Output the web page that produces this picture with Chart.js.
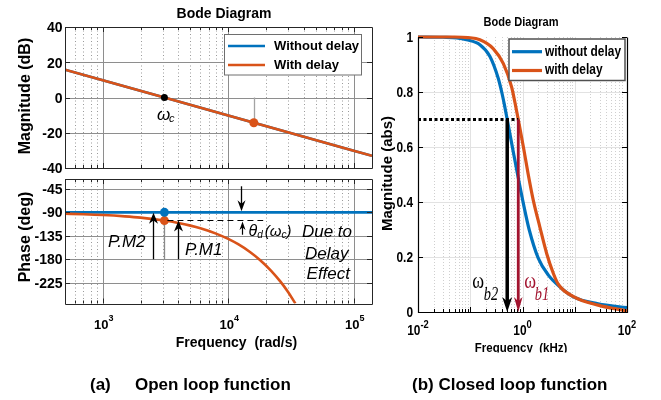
<!DOCTYPE html>
<html><head><meta charset="utf-8">
<script src="https://cdn.jsdelivr.net/npm/chart.js@4.4.1/dist/chart.umd.min.js"></script>
<style>
html,body{margin:0;padding:0;background:#fff;overflow:hidden}
#wrap{position:relative;width:661px;height:400px;background:#fff}
#wrap canvas{position:absolute;left:0;top:0}
.cap{position:absolute;top:375px;font:bold 17px "Liberation Sans",Arial,sans-serif;color:#000;white-space:pre;line-height:20px}
</style></head><body>
<div id="wrap">
<canvas id="cMag" width="661" height="400"></canvas>
<canvas id="cPhase" width="661" height="400"></canvas>
<canvas id="cCL" width="661" height="400"></canvas>
<div class="cap" style="left:90px">(a)</div>
<div class="cap" style="left:135px">Open loop function</div>
<div class="cap" style="left:412px">(b) Closed loop function</div>
</div>
<script>
// ================= DATA =================
// (a) open loop, frequency in rad/s
const freqRange = [500, 140000];
const openXTicks = [1e3, 1e4, 1e5];
const openXTickLabels = [['10', '3'], ['10', '4'], ['10', '5']];
const magYTicks = [-40, -20, 0, 20, 40];
const magYRange = [-40, 40];
const phaseYTicks = [-225, -180, -135, -90, -45];
const phaseYRange = [-265, -26];

const magFreq = [500, 1000, 3100, 10000, 100000, 140000];
const magWithoutDelay = [15.8, 9.8, 0, -10.2, -30.2, -33.1];
const magWithDelay = [15.8, 9.8, 0, -10.2, -30.2, -33.1];
const crossFreq = [3100];
const crossMag = [0];
const delayMarkFreq = [16000];
const delayMarkMag = [-14.3];

const phaseNoDelayFreq = [500, 140000];
const phaseWithoutDelay = [-90, -90];
const phaseDelayFreq = [500, 700, 1000, 1500, 2000, 3100, 4000, 5000, 6000, 8000, 10000, 12000, 15000, 18000, 22000, 26000, 30000, 34300];
const phaseWithDelay = [-92.6, -93.6, -95.1, -97.7, -100.2, -105.8, -110.4, -115.5, -120.6, -130.8, -141, -151.2, -166.5, -181.8, -202.2, -222.6, -243, -265];
const pmFreq = [3100];
const pmPhaseNoDelay = [-90];
const pmPhaseDelay = [-105.8];
const pmRef = -180;
const pm2ArrowFreq = 2500;
const pm1ArrowFreq = 4000;
const thetaArrowFreq = 12600;
const thetaDashEnd = 19000;
const thetaDownFrom = -40;
const thetaUpFrom = -133;

// (b) closed loop, frequency in kHz
const clXRange = [0.01, 100];
const clXTicks = [0.01, 1, 100];
const clXTickLabels = [['10', '-2'], ['10', '0'], ['10', '2']];
const clYTicks = [0, 0.2, 0.4, 0.6, 0.8, 1];
const clYTickLabels = ['0', '0.2', '0.4', '0.6', '0.8', '1'];
const clFreqNoDelay = [0.01, 0.03, 0.055, 0.085, 0.153, 0.237, 0.343, 0.40, 0.45, 0.51, 0.665, 0.83, 1.04, 1.34, 2.0, 3.13, 4.87, 9.44, 28, 100];
const clMagNoDelay = [1.0, 0.999, 0.997, 0.99, 0.972, 0.93, 0.85, 0.80, 0.754, 0.7, 0.583, 0.487, 0.394, 0.30, 0.196, 0.134, 0.096, 0.055, 0.03, 0.016];
const clFreqDelay = [0.01, 0.05, 0.09, 0.153, 0.275, 0.43, 0.62, 0.72, 0.83, 1.04, 1.28, 1.61, 2.15, 2.91, 3.9, 4.87, 9.44, 28, 100];
const clMagDelay = [1.0, 1.0, 0.998, 0.99, 0.958, 0.903, 0.818, 0.76, 0.7, 0.6, 0.503, 0.406, 0.309, 0.212, 0.14, 0.1, 0.056, 0.025, 0.004];
const bwLevel = 0.7;
const bwFreqB2 = 0.51;
const bwFreqB1 = 0.83;

// ================= STYLE / HELPERS =================
const W = 661, H = 400;
const SANS = '"Liberation Sans", Arial, Helvetica, sans-serif';
const SERIF = '"Liberation Serif", "DejaVu Serif", serif';
const BLUE = '#0072BD', ORANGE = '#D95319', DARKRED = '#A2142F';
const AX = '#262626';
const L_MAJOR = '#8e8e8e', L_MINOR = '#9a9a9a';
const R_MAJOR = '#e2e2e2', R_MINOR = '#cfcfcf';
const RSX = 0.85;
const MAG_AREA = { l: 65, t: 27, r: 372, b: 168 };
const PH_AREA = { l: 65, t: 179, r: 372, b: 303.5 };
const CL_AREA = { l: 418, t: 37, r: 627, b: 312 };

const zip = (xs, ys) => xs.map((x, i) => ({ x, y: ys[i] }));
const snap = v => Math.round(v) + 0.5;

function gridLog(min, max) {
  const out = [];
  const e0 = Math.floor(Math.log10(min) + 1e-9), e1 = Math.ceil(Math.log10(max) - 1e-9);
  for (let e = e0; e <= e1; e++) for (let k = 1; k <= 9; k++) {
    const v = k * Math.pow(10, e);
    if (v >= min * 0.9999 && v <= max * 1.0001) out.push({ v, major: k === 1 });
  }
  return out;
}
function seg(ctx, x1, y1, x2, y2, color, lw, dash) {
  ctx.save(); ctx.strokeStyle = color; ctx.lineWidth = lw; ctx.setLineDash(dash || []);
  ctx.beginPath(); ctx.moveTo(x1, y1); ctx.lineTo(x2, y2); ctx.stroke(); ctx.restore();
}
function txt(ctx, s, x, y, font, color, align, sx) {
  ctx.save(); ctx.font = font; ctx.fillStyle = color || '#000';
  ctx.textAlign = align || 'left'; ctx.textBaseline = 'middle';
  ctx.translate(x, y); ctx.scale(sx || 1, 1); ctx.fillText(s, 0, 0); ctx.restore();
}
function tw(ctx, s, font) { ctx.save(); ctx.font = font; const w = ctx.measureText(s).width; ctx.restore(); return w; }
function vtxt(ctx, s, cx, cy, font) {
  ctx.save(); ctx.translate(cx, cy); ctx.rotate(-Math.PI / 2); ctx.font = font; ctx.fillStyle = '#000';
  ctx.textAlign = 'center'; ctx.textBaseline = 'middle'; ctx.fillText(s, 0, 0); ctx.restore();
}
function powLabel(ctx, base, exp, cx, cy, font, supFont, sx, dy) {
  sx = sx || 1;
  const w1 = tw(ctx, base, font) * sx, w2 = tw(ctx, exp, supFont) * sx;
  const x0 = cx - (w1 + w2) / 2;
  txt(ctx, base, x0, cy, font, '#000', 'left', sx);
  txt(ctx, exp, x0 + w1, cy - dy, supFont, '#000', 'left', sx);
}
function arrow(ctx, x1, y1, x2, y2, color, lw, hl, hw) {
  const ang = Math.atan2(y2 - y1, x2 - x1);
  ctx.save(); ctx.strokeStyle = color; ctx.fillStyle = color; ctx.lineWidth = lw;
  ctx.beginPath(); ctx.moveTo(x1, y1);
  ctx.lineTo(x2 - Math.cos(ang) * hl * 0.6, y2 - Math.sin(ang) * hl * 0.6); ctx.stroke();
  ctx.translate(x2, y2); ctx.rotate(ang);
  ctx.beginPath(); ctx.moveTo(0, 0); ctx.lineTo(-hl, hw / 2); ctx.lineTo(-hl * 0.7, 0); ctx.lineTo(-hl, -hw / 2);
  ctx.closePath(); ctx.fill(); ctx.restore();
}
function frame(ctx, a, color, lw, withTop) {
  const l = snap(a.left), r = snap(a.right), t = snap(a.top), b = snap(a.bottom);
  ctx.save(); ctx.strokeStyle = color; ctx.lineWidth = lw; ctx.beginPath();
  if (withTop) ctx.rect(l, t, r - l, b - t);
  else { ctx.moveTo(l, t); ctx.lineTo(l, b); ctx.lineTo(r, b); ctx.lineTo(r, t); }
  ctx.stroke(); ctx.restore();
}
function logGrid(ctx, a, xs, major, minor, dash) {
  for (const g of gridLog(xs.min, xs.max)) {
    const px = snap(xs.getPixelForValue(g.v));
    if (px <= a.left + 1.5 || px >= a.right - 1.5) continue;
    seg(ctx, px, a.top, px, a.bottom, g.major ? major : minor, 1, g.major ? [] : dash);
  }
}
function hGrid(ctx, a, ys, vals, color, dash) {
  for (const t of vals) {
    const py = snap(ys.getPixelForValue(t));
    if (py <= a.top + 1.5 || py >= a.bottom - 1.5) continue;
    seg(ctx, a.left, py, a.right, py, color, 1, dash);
  }
}
function logTicks(ctx, a, xs, color, top) {
  for (const g of gridLog(xs.min, xs.max)) {
    const px = snap(xs.getPixelForValue(g.v)), L = g.major ? 5 : 3;
    seg(ctx, px, a.bottom, px, a.bottom - L, color, 1);
    if (top) seg(ctx, px, a.top, px, a.top + L, color, 1);
  }
}
function yTickMarks(ctx, a, ys, vals, color) {
  for (const t of vals) {
    const py = snap(ys.getPixelForValue(t));
    seg(ctx, a.left, py, a.left + 5, py, color, 1);
    seg(ctx, a.right, py, a.right - 5, py, color, 1);
  }
}
function legend(ctx, box, items, lineX, textX, font, lw, sx, border, blw) {
  ctx.save(); ctx.fillStyle = '#fff'; ctx.fillRect(box.x, box.y, box.w, box.h);
  ctx.strokeStyle = border; ctx.lineWidth = blw; ctx.strokeRect(box.x, box.y, box.w, box.h); ctx.restore();
  for (const it of items) {
    seg(ctx, lineX[0], it.y, lineX[1], it.y, it.color, lw);
    txt(ctx, it.label, textX, it.y, font, '#000', 'left', sx);
  }
}
function baseOpts(area, xr, yr) {
  return {
    responsive: false, animation: false, devicePixelRatio: 1, events: [],
    layout: { padding: { left: area.l, top: area.t, right: W - area.r, bottom: H - area.b } },
    plugins: { legend: { display: false }, tooltip: { enabled: false }, title: { display: false } },
    scales: {
      x: { type: 'logarithmic', display: false, min: xr[0], max: xr[1] },
      y: { type: 'linear', display: false, min: yr[0], max: yr[1] }
    }
  };
}

// ================= (a) MAGNITUDE =================
const magPlugin = {
  id: 'magDecor',
  beforeDatasetsDraw(chart) {
    const { ctx, chartArea: a, scales: { x, y } } = chart;
    logGrid(ctx, a, x, L_MAJOR, L_MINOR, [1, 2.5]);
    hGrid(ctx, a, y, magYTicks, L_MAJOR);
    const sx = snap(x.getPixelForValue(delayMarkFreq[0]));
    seg(ctx, sx, y.getPixelForValue(0), sx, y.getPixelForValue(delayMarkMag[0]), '#a3a3a3', 1.3);
  },
  afterDatasetsDraw(chart) {
    const { ctx, chartArea: a, scales: { x, y } } = chart;
    frame(ctx, a, AX, 1, true);
    logTicks(ctx, a, x, AX, true);
    yTickMarks(ctx, a, y, magYTicks, AX);
    magYTicks.forEach(t => txt(ctx, String(t), a.left - 2.5, y.getPixelForValue(t) + 1.5, `bold 14px ${SANS}`, '#000', 'right'));
    legend(ctx, { x: 224.5, y: 34.5, w: 137, h: 40.5 }, [
      { label: 'Without delay', color: BLUE, y: 46 },
      { label: 'With delay', color: ORANGE, y: 65 }
    ], [228, 265], 274, `bold 13px ${SANS}`, 2.6, 1, '#6e6e6e', 1);
    const cx = x.getPixelForValue(crossFreq[0]), cy = y.getPixelForValue(crossMag[0]);
    txt(ctx, 'ω', cx - 7.5, cy + 17.5, `italic 17px ${SANS}`, '#000', 'left');
    txt(ctx, 'c', cx + 4.5, cy + 21, `italic 11px ${SANS}`, '#000', 'left');
    txt(ctx, 'Bode Diagram', 224, 14, `bold 14px ${SANS}`, '#000', 'center');
    vtxt(ctx, 'Magnitude (dB)', 25.5, 96, `bold 16px ${SANS}`);
  }
};
new Chart(document.getElementById('cMag'), {
  type: 'scatter',
  data: { datasets: [
    { data: zip(crossFreq, crossMag), pointRadius: 3.5, pointBackgroundColor: '#000', pointBorderWidth: 0, order: 0 },
    { data: zip(delayMarkFreq, delayMarkMag), pointRadius: 4.5, pointBackgroundColor: ORANGE, pointBorderWidth: 0, order: 0 },
    { label: 'With delay', data: zip(magFreq, magWithDelay), showLine: true, borderColor: ORANGE, borderWidth: 2.6, pointRadius: 0, order: 1 },
    { label: 'Without delay', data: zip(magFreq, magWithoutDelay), showLine: true, borderColor: BLUE, borderWidth: 2.6, pointRadius: 0, order: 2 }
  ] },
  options: baseOpts(MAG_AREA, freqRange, magYRange),
  plugins: [magPlugin]
});

// ================= (a) PHASE =================
const phasePlugin = {
  id: 'phaseDecor',
  beforeDatasetsDraw(chart) {
    const { ctx, chartArea: a, scales: { x, y } } = chart;
    logGrid(ctx, a, x, L_MAJOR, L_MINOR, [1, 2.5]);
    hGrid(ctx, a, y, phaseYTicks, L_MAJOR);
    const px = snap(x.getPixelForValue(pmFreq[0]));
    seg(ctx, px, y.getPixelForValue(pmRef), px, y.getPixelForValue(pmPhaseDelay[0]), '#8a8a8a', 1.3);
  },
  afterDatasetsDraw(chart) {
    const { ctx, chartArea: a, scales: { x, y } } = chart;
    frame(ctx, a, AX, 1, true);
    logTicks(ctx, a, x, AX, true);
    yTickMarks(ctx, a, y, phaseYTicks, AX);
    phaseYTicks.forEach(t => txt(ctx, String(t), a.left - 2.5, y.getPixelForValue(t) + 1, `bold 14px ${SANS}`, '#000', 'right'));
    openXTicks.forEach((v, i) => powLabel(ctx, openXTickLabels[i][0], openXTickLabels[i][1], x.getPixelForValue(v) + 1, 325, `bold 13px ${SANS}`, `bold 9px ${SANS}`, 1, 6));
    const yD = y.getPixelForValue(pmPhaseDelay[0]), y90 = y.getPixelForValue(pmPhaseNoDelay[0]), y180 = y.getPixelForValue(pmRef);
    seg(ctx, x.getPixelForValue(pmFreq[0]) + 3, snap(yD) - 1, x.getPixelForValue(thetaDashEnd), snap(yD) - 1, '#000', 1, [6, 4]);
    const x2 = snap(x.getPixelForValue(pm2ArrowFreq)), x1 = snap(x.getPixelForValue(pm1ArrowFreq));
    arrow(ctx, x2, y180, x2, y90 + 0.5, '#000', 1.3, 11, 9);
    arrow(ctx, x1, y180, x1, yD, '#000', 1.3, 11, 9);
    const xt = snap(x.getPixelForValue(thetaArrowFreq));
    arrow(ctx, xt, y.getPixelForValue(thetaDownFrom), xt, y90 - 1, '#000', 1.3, 11, 8);
    arrow(ctx, xt + 1, y.getPixelForValue(thetaUpFrom), xt + 1, yD + 1, '#000', 1.2, 8.5, 6);
    const IT = `italic 17px ${SANS}`;
    txt(ctx, 'P.M2', x2 - 8, 242, IT, '#000', 'right');
    txt(ctx, 'P.M1', x1 + 6.5, 250, IT, '#000', 'left');
    let tx = xt + 7;
    const ty = 232;
    txt(ctx, 'θ', tx, ty, `italic 16px ${SANS}`); tx += tw(ctx, 'θ', `italic 16px ${SANS}`);
    txt(ctx, 'd', tx, ty + 3.5, `italic 10px ${SANS}`); tx += tw(ctx, 'd', `italic 10px ${SANS}`) + 2;
    txt(ctx, '(', tx, ty, `italic 15px ${SANS}`); tx += tw(ctx, '(', `italic 15px ${SANS}`);
    txt(ctx, 'ω', tx, ty, `italic 15px ${SANS}`); tx += tw(ctx, 'ω', `italic 15px ${SANS}`);
    txt(ctx, 'c', tx, ty + 3.5, `italic 10px ${SANS}`); tx += tw(ctx, 'c', `italic 10px ${SANS}`);
    txt(ctx, ')', tx, ty, `italic 15px ${SANS}`);
    txt(ctx, 'Due to', 352, ty, IT, '#000', 'right');
    txt(ctx, 'Delay', 348.5, 254, IT, '#000', 'right');
    txt(ctx, 'Effect', 350, 274.5, IT, '#000', 'right');
    vtxt(ctx, 'Phase (deg)', 25.5, 237, `bold 16px ${SANS}`);
    txt(ctx, 'Frequency  (rad/s)', 236.5, 343, `bold 14px ${SANS}`, '#000', 'center');
  }
};
new Chart(document.getElementById('cPhase'), {
  type: 'scatter',
  data: { datasets: [
    { data: zip(pmFreq, pmPhaseNoDelay), pointRadius: 4.5, pointBackgroundColor: BLUE, pointBorderWidth: 0, order: 0 },
    { data: zip(pmFreq, pmPhaseDelay), pointRadius: 4.5, pointBackgroundColor: ORANGE, pointBorderWidth: 0, order: 0 },
    { label: 'With delay', data: zip(phaseDelayFreq, phaseWithDelay), showLine: true, borderColor: ORANGE, borderWidth: 2.6, pointRadius: 0, cubicInterpolationMode: 'monotone', order: 1 },
    { label: 'Without delay', data: zip(phaseNoDelayFreq, phaseWithoutDelay), showLine: true, borderColor: BLUE, borderWidth: 2.6, pointRadius: 0, order: 2 }
  ] },
  options: baseOpts(PH_AREA, freqRange, phaseYRange),
  plugins: [phasePlugin]
});

// ================= (b) CLOSED LOOP =================
const clPlugin = {
  id: 'clDecor',
  beforeDatasetsDraw(chart) {
    const { ctx, chartArea: a, scales: { x, y } } = chart;
    logGrid(ctx, a, x, R_MAJOR, R_MINOR, [1, 2]);
    hGrid(ctx, a, y, clYTicks, R_MAJOR);
  },
  afterDatasetsDraw(chart) {
    const { ctx, chartArea: a, scales: { x, y } } = chart;
    frame(ctx, a, '#000', 1.2, false);
    for (const g of gridLog(x.min, x.max)) {
      const px = snap(x.getPixelForValue(g.v));
      seg(ctx, px, a.bottom, px, a.bottom - (g.major ? 5 : 3), '#000', 1);
    }
    yTickMarks(ctx, a, y, clYTicks, '#000');
    clYTicks.forEach((t, i) => txt(ctx, clYTickLabels[i], a.left - 5, y.getPixelForValue(t) + 1, `bold 14px ${SANS}`, '#000', 'right', RSX));
    clXTicks.forEach((v, i) => powLabel(ctx, clXTickLabels[i][0], clXTickLabels[i][1], x.getPixelForValue(v), 331.5, `bold 14px ${SANS}`, `bold 11px ${SANS}`, RSX, 6.5));
    legend(ctx, { x: 509, y: 39, w: 116, h: 41.5 }, [
      { label: 'without delay', color: BLUE, y: 51.7 },
      { label: 'with delay', color: ORANGE, y: 70.5 }
    ], [512, 542], 545, `bold 14px ${SANS}`, 3.2, RSX, '#505050', 1.5);
    const yb = y.getPixelForValue(bwLevel), y0 = y.getPixelForValue(0);
    const xb2 = x.getPixelForValue(bwFreqB2), xb1 = x.getPixelForValue(bwFreqB1);
    seg(ctx, a.left, yb, xb1, yb, '#000', 3, [3, 2.5]);
    arrow(ctx, xb2, yb, xb2, y0, '#000', 3.5, 15, 10);
    arrow(ctx, xb1, yb, xb1, y0, DARKRED, 2.8, 15, 8.5);
    txt(ctx, 'ω', xb2 - 35, 282, `23px ${SERIF}`, '#000', 'left', 0.78);
    txt(ctx, 'b2', xb2 - 23.5, 295.5, `italic 18px ${SERIF}`, '#000', 'left', 0.8);
    txt(ctx, 'ω', xb1 + 6, 282, `23px ${SERIF}`, DARKRED, 'left', 0.78);
    txt(ctx, 'b1', xb1 + 16.5, 295.5, `italic 18px ${SERIF}`, DARKRED, 'left', 0.8);
    txt(ctx, 'Bode Diagram', 521, 22, `bold 13px ${SANS}`, '#000', 'center', RSX);
    vtxt(ctx, 'Magnitude (abs)', 388, 173.5, `bold 15px ${SANS}`);
    txt(ctx, 'Frequency  (kHz)', 521, 348.5, `bold 13.5px ${SANS}`, '#000', 'center', RSX);
    ctx.save(); ctx.fillStyle = '#fff'; ctx.fillRect(380, 352.5, 281, 18); ctx.restore();
  }
};
new Chart(document.getElementById('cCL'), {
  type: 'scatter',
  data: { datasets: [
    { label: 'with delay', data: zip(clFreqDelay, clMagDelay), showLine: true, borderColor: ORANGE, borderWidth: 3.2, pointRadius: 0, cubicInterpolationMode: 'monotone', clip: 6, order: 1 },
    { label: 'without delay', data: zip(clFreqNoDelay, clMagNoDelay), showLine: true, borderColor: BLUE, borderWidth: 3.2, pointRadius: 0, cubicInterpolationMode: 'monotone', clip: 6, order: 2 }
  ] },
  options: baseOpts(CL_AREA, clXRange, [0, 1]),
  plugins: [clPlugin]
});
</script>
</body></html>
